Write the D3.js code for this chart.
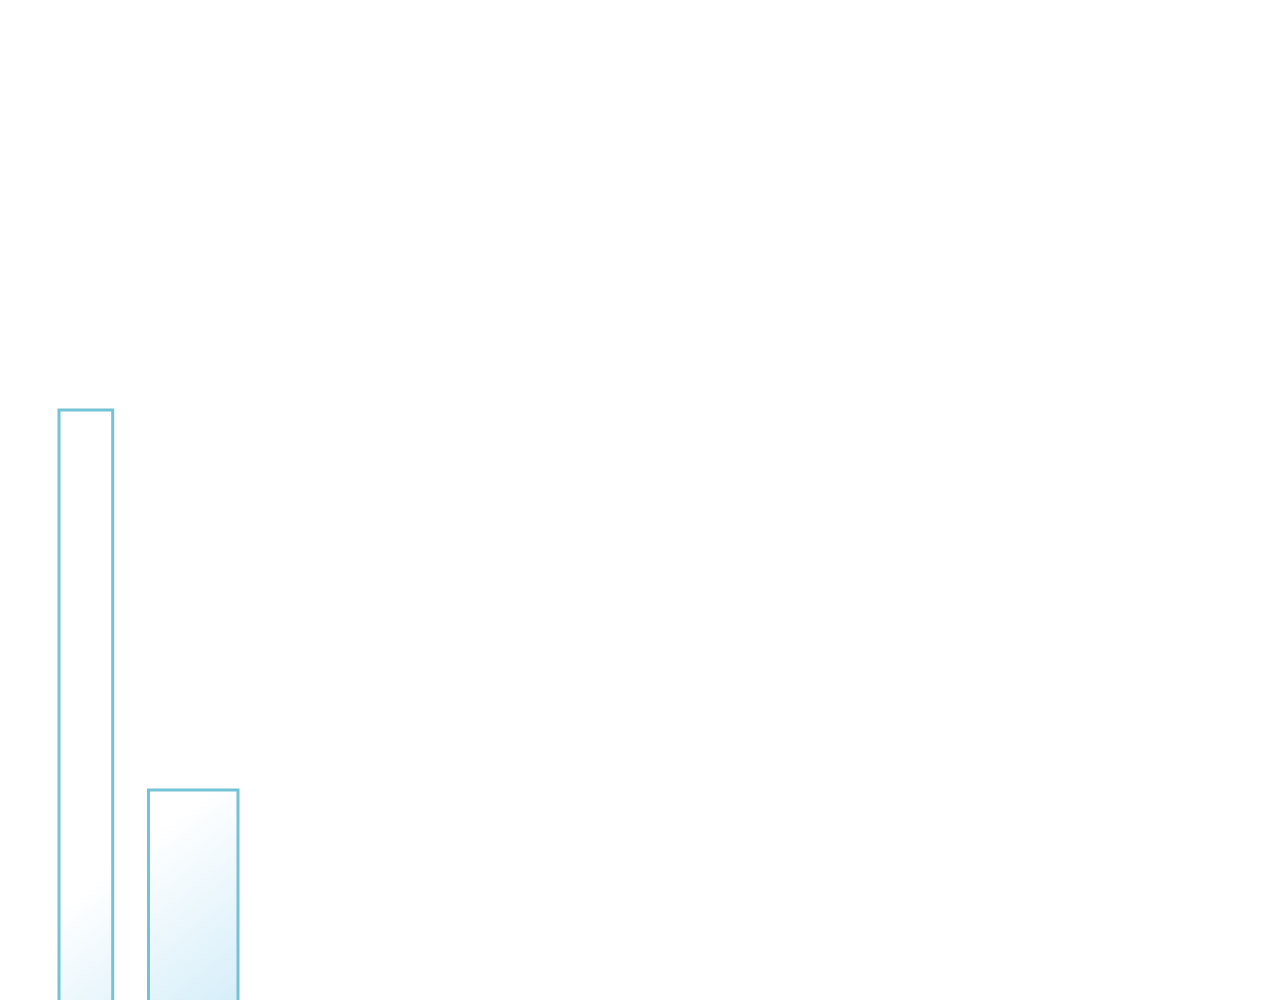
<!DOCTYPE html>
<html><head><meta charset="utf-8">
<script src="https://cdn.jsdelivr.net/npm/d3@7"></script>
<style>html,body{margin:0;padding:0;background:#fff;overflow:hidden}</style>
</head><body>
<script>
const categories = ["A", "B"];
const binStart = [0, 5];
const binEnd = [3, 10];
const values = [65, 27];

const W = 1280, H = 1000;
const svg = d3.select("body").append("svg").attr("width", W).attr("height", H);
const defs = svg.append("defs");
const grad = defs.append("linearGradient").attr("id", "g")
  .attr("gradientUnits", "userSpaceOnUse")
  .attr("x1", 462).attr("y1", 589).attr("x2", 578).attr("y2", 736);
grad.append("stop").attr("offset", "0%").attr("stop-color", "#ffffff");
grad.append("stop").attr("offset", "100%").attr("stop-color", "#d5eef9");

const x = d3.scaleLinear().domain([0, 10]).range([59, 238]);
const y = d3.scaleLinear().domain([0, 65]).range([1060, 410]);

const data = categories.map((c, i) => ({c, x0: binStart[i], x1: binEnd[i], v: values[i]}));
svg.selectAll("rect.bar").data(data).join("rect").attr("class", "bar")
  .attr("x", d => x(d.x0)).attr("width", d => x(d.x1) - x(d.x0))
  .attr("y", d => y(d.v)).attr("height", d => y(0) - y(d.v))
  .attr("fill", "url(#g)").attr("stroke", "#74c3d5").attr("stroke-width", 3);
</script>
</body></html>
